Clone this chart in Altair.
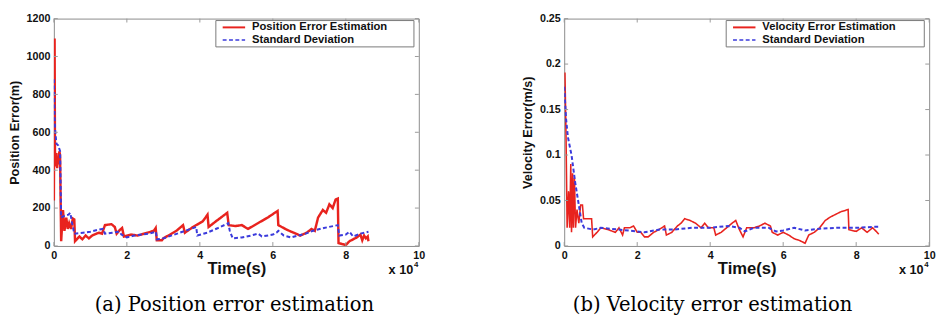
import altair as alt
import pandas as pd

# ---------------- data (time in units of 10^4 s) ----------------
pos_err_t = [0.00, 0.02, 0.03, 0.05, 0.07, 0.09, 0.11, 0.13, 0.15, 0.17, 0.20, 0.25, 0.29, 0.34, 0.38, 0.42,
             0.47, 0.52, 0.56, 0.58, 0.70, 0.78, 0.87, 0.96, 1.05, 1.23, 1.32, 1.40, 1.58, 1.67, 1.72, 1.81,
             1.87, 1.92, 2.12, 2.30, 2.56, 2.74, 2.79, 2.82, 2.96, 3.00, 3.18, 3.36, 3.54, 3.59, 3.81, 3.99,
             4.08, 4.21, 4.24, 4.44, 4.75, 4.79, 4.97, 5.15, 5.32, 5.59, 5.86, 6.13, 6.15, 6.39, 6.57, 6.75,
             6.93, 7.06, 7.15, 7.24, 7.37, 7.46, 7.55, 7.64, 7.72, 7.78, 7.80, 7.90, 8.00, 8.10, 8.20, 8.30,
             8.40, 8.45, 8.50, 8.55, 8.60, 8.62]
pos_err = [240, 1095, 500, 420, 490, 410, 470, 430, 500, 480, 25, 190, 80, 150, 90, 120,
           90, 145, 140, 25, 50, 35, 55, 40, 55, 70, 65, 110, 115, 100, 65, 85,
           95, 50, 60, 55, 70, 80, 95, 30, 30, 40, 60, 80, 110, 70, 100, 120,
           130, 165, 100, 130, 175, 110, 105, 110, 90, 120, 150, 185, 110, 85, 70, 55,
           70, 90, 80, 150, 190, 175, 220, 200, 245, 250, 15, 10, 5, 25, 35, 45,
           60, 30, 55, 40, 50, 25]

pos_std_t = [0.00, 0.02, 0.04, 0.07, 0.12, 0.17, 0.20, 0.30, 0.40, 0.45, 0.50, 0.56, 0.80, 1.00, 1.20, 1.35,
             1.40, 1.60, 1.80, 1.85, 2.00, 2.20, 2.40, 2.60, 2.80, 2.82, 3.00, 3.30, 3.60, 3.90, 3.93, 4.20,
             4.50, 4.78, 4.82, 4.90, 5.15, 5.40, 5.60, 5.70, 6.00, 6.10, 6.15, 6.30, 6.50, 6.70, 6.90, 7.10,
             7.40, 7.78, 7.82, 8.00, 8.10, 8.20, 8.40, 8.62]
pos_std = [880, 660, 600, 540, 530, 500, 150, 160, 165, 175, 120, 65, 70, 75, 85, 90,
           65, 70, 75, 60, 45, 55, 60, 65, 75, 35, 40, 60, 80, 100, 55, 70,
           95, 120, 80, 40, 45, 55, 65, 50, 60, 70, 80, 55, 45, 55, 65, 80,
           95, 110, 55, 60, 75, 50, 65, 75]

vel_err_t = [0.00, 0.02, 0.05, 0.08, 0.12, 0.15, 0.18, 0.20, 0.23, 0.25, 0.28, 0.31, 0.35, 0.40, 0.45, 0.50,
             0.53, 0.75, 0.78, 0.90, 1.00, 1.20, 1.40, 1.50, 1.60, 1.65, 1.80, 1.90, 2.00, 2.10, 2.20, 2.30,
             2.45, 2.60, 2.75, 2.80, 2.95, 3.10, 3.20, 3.30, 3.45, 3.60, 3.75, 3.85, 3.95, 4.10, 4.15, 4.30,
             4.45, 4.60, 4.70, 4.80, 4.90, 5.00, 5.20, 5.35, 5.50, 5.65, 5.70, 5.85, 6.00, 6.15, 6.30, 6.45,
             6.60, 6.70, 6.85, 7.00, 7.15, 7.30, 7.45, 7.60, 7.78, 7.80, 8.00, 8.15, 8.30, 8.45, 8.55, 8.62]
vel_err = [0.190, 0.190, 0.120, 0.020, 0.060, 0.020, 0.090, 0.015, 0.080, 0.020, 0.075, 0.020, 0.040, 0.025, 0.045, 0.045,
           0.030, 0.030, 0.010, 0.015, 0.020, 0.018, 0.015, 0.020, 0.012, 0.020, 0.020, 0.022, 0.015, 0.015, 0.010, 0.010,
           0.015, 0.018, 0.022, 0.012, 0.015, 0.022, 0.025, 0.030, 0.028, 0.025, 0.020, 0.025, 0.020, 0.020, 0.012, 0.015,
           0.020, 0.025, 0.028, 0.018, 0.010, 0.020, 0.020, 0.022, 0.025, 0.022, 0.015, 0.012, 0.015, 0.012, 0.008, 0.006,
           0.003, 0.012, 0.015, 0.020, 0.028, 0.032, 0.035, 0.038, 0.040, 0.018, 0.016, 0.020, 0.015, 0.020, 0.016, 0.013]

vel_std_t = [0.00, 0.05, 0.10, 0.20, 0.30, 0.38, 0.42, 0.48, 0.55, 0.80, 1.00, 1.50, 2.00, 2.20, 2.60, 3.00,
             3.50, 4.00, 4.50, 4.80, 4.95, 5.20, 5.60, 5.80, 6.00, 6.30, 6.60, 7.00, 7.50, 8.00, 8.50, 8.62]
vel_std = [0.175, 0.140, 0.120, 0.100, 0.070, 0.050, 0.040, 0.025, 0.020, 0.018, 0.020, 0.018, 0.016, 0.015, 0.018, 0.018,
           0.020, 0.020, 0.022, 0.020, 0.016, 0.020, 0.020, 0.016, 0.017, 0.020, 0.017, 0.019, 0.020, 0.020, 0.021, 0.021]

x_ticks = [0, 2, 4, 6, 8, 10]
pos_ticks = [0, 200, 400, 600, 800, 1000, 1200]
vel_ticks = [0, 0.05, 0.1, 0.15, 0.2, 0.25]

RED = "#e8231e"
BLUE = "#3b3bdc"
W, H = 374, 233
TXT = "#111111"


def panel(et, ev, st, sv, err_label, ytitle, ymax, yticks, yfmt, caption, cap_dx):
    rows = []
    for i, (t, v) in enumerate(zip(et, ev)):
        rows.append({"t": t, "v": v, "series": err_label, "i": i})
    for i, (t, v) in enumerate(zip(st, sv)):
        rows.append({"t": t, "v": v, "series": "Standard Deviation", "i": i})
    df = pd.DataFrame(rows)
    dom = [err_label, "Standard Deviation"]

    xsc = alt.Scale(domain=[0, 10], nice=False, zero=False)
    ysc = alt.Scale(domain=[0, ymax], nice=False)
    xax = alt.Axis(values=x_ticks, format="d", title="Time(s)")
    yax = alt.Axis(values=yticks, format=yfmt, title=ytitle)

    lines = alt.Chart(df).mark_line(clip=True).encode(
        x=alt.X("t:Q", scale=xsc, axis=xax),
        y=alt.Y("v:Q", scale=ysc, axis=yax),
        color=alt.Color("series:N", scale=alt.Scale(domain=dom, range=[RED, BLUE]), legend=None),
        strokeDash=alt.StrokeDash("series:N", scale=alt.Scale(domain=dom, range=[[1, 0], [4, 2.5]]), legend=None),
        strokeWidth=alt.StrokeWidth("series:N", scale=alt.Scale(domain=dom, range=[2.5, 1.6]), legend=None),
        order="i:Q",
    )

    tx = pd.DataFrame({"t": x_ticks})
    ty = pd.DataFrame({"v": yticks})
    tick_color = "#999999"
    bt = alt.Chart(tx).mark_rule(color=tick_color, strokeWidth=1).encode(
        x=alt.X("t:Q", scale=xsc, axis=xax), y=alt.value(H), y2=alt.value(H - 4))
    tt = alt.Chart(tx).mark_rule(color=tick_color, strokeWidth=1).encode(
        x=alt.X("t:Q", scale=xsc, axis=xax), y=alt.value(0), y2=alt.value(4))
    lt = alt.Chart(ty).mark_rule(color=tick_color, strokeWidth=1).encode(
        y=alt.Y("v:Q", scale=ysc, axis=yax), x=alt.value(0), x2=alt.value(4))
    rt = alt.Chart(ty).mark_rule(color=tick_color, strokeWidth=1).encode(
        y=alt.Y("v:Q", scale=ysc, axis=yax), x=alt.value(W), x2=alt.value(W - 4))

    one = pd.DataFrame({"s": ["x 10"], "p": ["4"], "a": [err_label], "b": ["Standard Deviation"]})
    x10 = alt.Chart(one).mark_text(font="Liberation Sans", fontWeight="bold", fontSize=13,
                                   align="left", baseline="alphabetic", color=TXT).encode(
        x=alt.value(343), y=alt.value(262), text="s:N")
    sup = alt.Chart(one).mark_text(font="Liberation Sans", fontWeight="bold", fontSize=8,
                                   align="left", baseline="alphabetic", color=TXT).encode(
        x=alt.value(369), y=alt.value(255), text="p:N")

    # legend box (drawn inside the plot, MATLAB style)
    box = alt.Chart(one).mark_rect(fill="white", stroke="#777777", strokeWidth=1).encode(
        x=alt.value(166), x2=alt.value(369), y=alt.value(2), y2=alt.value(29))
    sym1 = alt.Chart(one).mark_rule(color=RED, strokeWidth=2).encode(
        x=alt.value(173), x2=alt.value(196), y=alt.value(9))
    sym2 = alt.Chart(one).mark_rule(color=BLUE, strokeWidth=1.6, strokeDash=[4, 2.5]).encode(
        x=alt.value(173), x2=alt.value(196), y=alt.value(22))
    lab1 = alt.Chart(one).mark_text(font="Liberation Sans", fontWeight="bold", fontSize=11.5,
                                    align="left", baseline="middle", color=TXT).encode(
        x=alt.value(203), y=alt.value(9), text="a:N")
    lab2 = alt.Chart(one).mark_text(font="Liberation Sans", fontWeight="bold", fontSize=11.5,
                                    align="left", baseline="middle", color=TXT).encode(
        x=alt.value(203), y=alt.value(22), text="b:N")

    return alt.layer(lines, bt, tt, lt, rt, x10, sup, box, sym1, sym2, lab1, lab2).properties(
        width=W, height=H,
        title=alt.TitleParams(caption, orient="bottom", font="DejaVu Serif", fontSize=20,
                              fontWeight="normal", color="#000000", anchor="middle",
                              frame="group", offset=19, dx=cap_dx),
    )


left = panel(pos_err_t, pos_err, pos_std_t, pos_std, "Position Error Estimation",
             "Position Error(m)", 1200, pos_ticks, "d", "(a) Position error estimation", -2)
right = panel(vel_err_t, vel_err, vel_std_t, vel_std, "Velocity Error Estimation",
              "Velocity Error(m/s)", 0.25, vel_ticks, "~g", "(b) Velocity error estimation", -35)

chart = alt.hconcat(left, right, spacing=149, bounds="flush").configure(
    padding={"left": 0, "top": 0, "right": 0, "bottom": 0},
    background="white",
).configure_view(
    stroke="#8a8a8a", strokeWidth=1
).configure_axis(
    domain=False, ticks=False, grid=False,
    labelFont="Liberation Sans", labelFontWeight="bold", labelFontSize=11, labelColor=TXT,
    titleFont="Liberation Sans", titleFontWeight="bold", titleColor=TXT,
).configure_axisX(
    labelPadding=4, titlePadding=0, titleFontSize=17, labelFlush=False,
).configure_axisY(
    labelPadding=4, titlePadding=5, titleFontSize=13,
)

chart.save("out.html", embed_options={"renderer": "svg", "actions": False})
